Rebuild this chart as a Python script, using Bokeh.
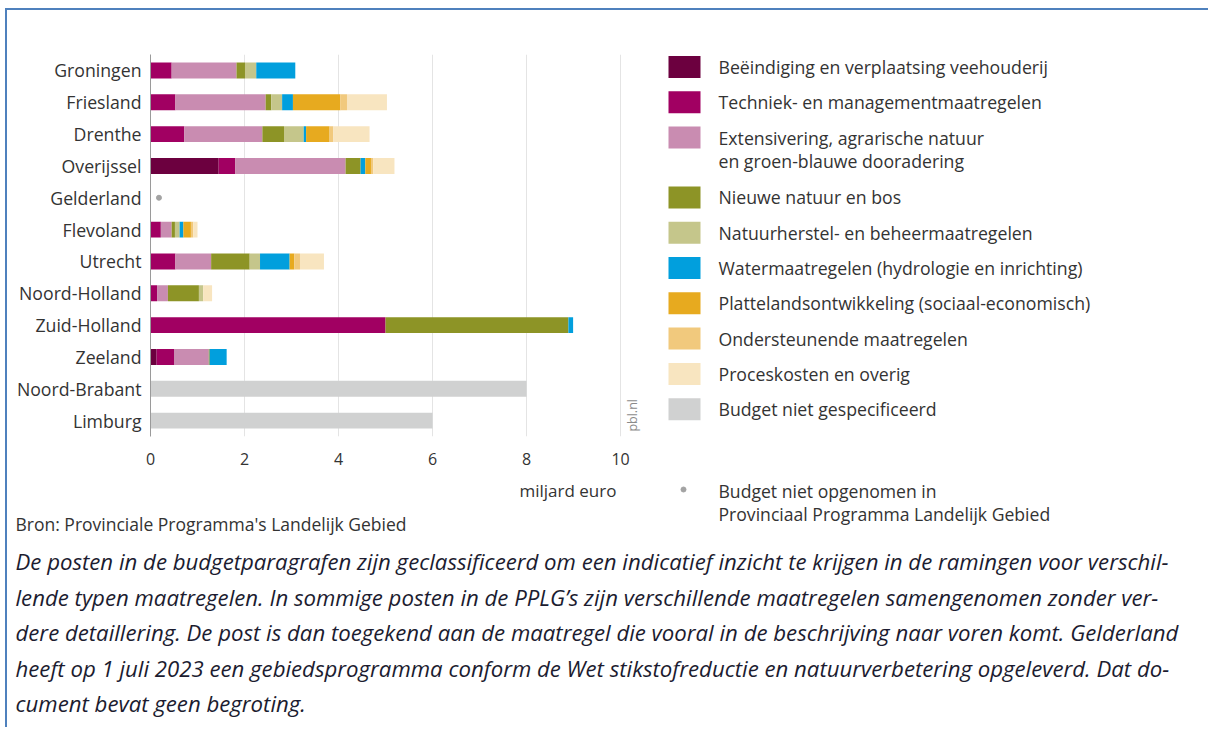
from math import pi
from bokeh.plotting import figure
from bokeh.models import ColumnDataSource, Range1d, FixedTicker
from bokeh.layouts import column, row
from bokeh.core.properties import value
from bokeh.embed import file_html
from bokeh.resources import INLINE

# ---------------- data (miljard euro) ----------------
categories = ["Groningen", "Friesland", "Drenthe", "Overijssel", "Gelderland", "Flevoland",
              "Utrecht", "Noord-Holland", "Zuid-Holland", "Zeeland", "Noord-Brabant", "Limburg"]

beeindiging   = [0.00, 0.00, 0.00, 1.45, 0.00, 0.00, 0.00, 0.00, 0.00, 0.13, 0.00, 0.00]
techniek      = [0.45, 0.53, 0.72, 0.35, 0.00, 0.22, 0.53, 0.14, 5.00, 0.37, 0.00, 0.00]
extensivering = [1.38, 1.92, 1.66, 2.35, 0.00, 0.23, 0.76, 0.23, 0.00, 0.74, 0.00, 0.00]
nieuwe_natuur = [0.18, 0.12, 0.46, 0.32, 0.00, 0.07, 0.82, 0.66, 3.89, 0.02, 0.00, 0.00]
natuurherstel = [0.24, 0.23, 0.42, 0.00, 0.00, 0.10, 0.22, 0.09, 0.00, 0.00, 0.00, 0.00]
water         = [0.83, 0.23, 0.05, 0.10, 0.00, 0.08, 0.63, 0.00, 0.10, 0.36, 0.00, 0.00]
platteland    = [0.00, 1.01, 0.50, 0.12, 0.00, 0.16, 0.10, 0.00, 0.00, 0.00, 0.00, 0.00]
ondersteunend = [0.00, 0.14, 0.08, 0.05, 0.00, 0.05, 0.12, 0.00, 0.00, 0.00, 0.00, 0.00]
proces        = [0.00, 0.85, 0.77, 0.45, 0.00, 0.09, 0.51, 0.19, 0.00, 0.00, 0.00, 0.00]
niet_gespec   = [0.00, 0.00, 0.00, 0.00, 0.00, 0.00, 0.00, 0.00, 0.00, 0.00, 8.00, 6.00]

not_in_pplg_cats = ["Gelderland"]
not_in_pplg_x = [0.18]

series_keys = ["beeindiging", "techniek", "extensivering", "nieuwe_natuur", "natuurherstel",
               "water", "platteland", "ondersteunend", "proces", "niet_gespec"]
series_labels = [
    ["Beëindiging en verplaatsing veehouderij"],
    ["Techniek- en managementmaatregelen"],
    ["Extensivering, agrarische natuur", "en groen-blauwe dooradering"],
    ["Nieuwe natuur en bos"],
    ["Natuurherstel- en beheermaatregelen"],
    ["Watermaatregelen (hydrologie en inrichting)"],
    ["Plattelandsontwikkeling (sociaal-economisch)"],
    ["Ondersteunende maatregelen"],
    ["Proceskosten en overig"],
    ["Budget niet gespecificeerd"],
]
colors = ["#6c003f", "#a10062", "#c98cb1", "#8d9426", "#c5c68b",
          "#019fdd", "#e7aa1f", "#f1c97d", "#f8e5c0", "#d0d1d1"]

x_ticks = [0, 2, 4, 6, 8, 10]
x_label = "miljard euro"
dot_label = ["Budget niet opgenomen in", "Provinciaal Programma Landelijk Gebied"]
source_text = "Bron: Provinciale Programma's Landelijk Gebied"
caption_lines = [
    "De posten in de budgetparagrafen zijn geclassificeerd om een indicatief inzicht te krijgen in de ramingen voor verschil-",
    "lende typen maatregelen. In sommige posten in de PPLG’s zijn verschillende maatregelen samengenomen zonder ver-",
    "dere detaillering. De post is dan toegekend aan de maatregel die vooral in de beschrijving naar voren komt. Gelderland",
    "heeft op 1 juli 2023 een gebiedsprogramma conform de Wet stikstofreductie en natuurverbetering opgeleverd. Dat do-",
    "cument bevat geen begroting.",
]

FONT = "Open Sans"
TXT = "#333333"

# layout constants (pixels)
W_A, H_A = 642, 465
TOP, BOT = 44, 39
FRAME_H = H_A - TOP - BOT

# ---------------- chart ----------------
data = dict(cat=categories, beeindiging=beeindiging, techniek=techniek, extensivering=extensivering,
            nieuwe_natuur=nieuwe_natuur, natuurherstel=natuurherstel, water=water,
            platteland=platteland, ondersteunend=ondersteunend, proces=proces, niet_gespec=niet_gespec)
src = ColumnDataSource(data)

p = figure(width=W_A, height=H_A, y_range=list(reversed(categories)), x_range=Range1d(0, 10.53),
           output_backend="svg", toolbar_location=None,
           min_border_left=143, min_border_right=4, min_border_top=TOP, min_border_bottom=BOT)
p.hbar_stack(series_keys, y="cat", height=0.5, source=src, fill_color=colors, line_color=None)
p.scatter(x=not_in_pplg_x, y=not_in_pplg_cats, size=5, color="#a3a3a3")
p.text(x=[10.26], y=["Limburg"], text=["pbl.nl"], angle=pi / 2, y_offset=11,
       text_align="left", text_baseline="middle", text_font=value(FONT),
       text_font_size="12.5px", text_color="#8a8a8a")

p.outline_line_color = None
p.ygrid.visible = False
p.xgrid.ticker = FixedTicker(ticks=x_ticks)
p.xgrid.grid_line_color = "#e4e4e4"
p.xgrid.grid_line_width = 1

p.xaxis.ticker = FixedTicker(ticks=x_ticks)
p.xaxis.axis_line_color = None
p.xaxis.major_tick_line_color = None
p.xaxis.minor_tick_line_color = None
p.xaxis.major_label_standoff = 10
p.xaxis.major_label_text_font = FONT
p.xaxis.major_label_text_font_size = "16px"
p.xaxis.major_label_text_color = TXT

p.yaxis.axis_line_color = "#9a9a9a"
p.yaxis.major_tick_line_color = None
p.yaxis.minor_tick_line_color = None
p.yaxis.major_tick_out = 0
p.yaxis.major_tick_in = 0
p.yaxis.major_label_standoff = 9
p.yaxis.major_label_text_font = FONT
p.yaxis.major_label_text_font_size = "17.7px"
p.yaxis.major_label_text_color = TXT

# ---------------- legend (canvas pixel coordinates) ----------------
W_L = 559
L = figure(width=W_L, height=H_A, x_range=Range1d(0, W_L), y_range=Range1d(TOP + FRAME_H, TOP),
           x_axis_type=None, y_axis_type=None, output_backend="svg", toolbar_location=None,
           min_border_left=0, min_border_right=0, min_border_top=TOP, min_border_bottom=BOT,
           outline_line_color=None)
item_y = []
y = 56.5
for lab in series_labels:
    item_y.append(y)
    y += 35.3 + 23 * (len(lab) - 1) + (1.5 if len(lab) > 1 else 0)
L.rect(x=[35] * len(item_y), y=item_y, width=32, height=22, fill_color=colors, line_color=None)
tx, ty, tt = [], [], []
for yy, lab in zip(item_y, series_labels):
    for k, line in enumerate(lab):
        tx.append(69)
        ty.append(yy + 23 * k)
        tt.append(line)
L.text(x=tx, y=ty, text=tt, text_baseline="middle", text_align="left",
       text_font=value(FONT), text_font_size="17.7px", text_color=TXT)

# ---------------- bottom (canvas pixel coordinates) ----------------
W_B, H_B = 1201, 252
B = figure(width=W_B, height=H_B, x_range=Range1d(0, W_B), y_range=Range1d(H_B, 0),
           x_axis_type=None, y_axis_type=None, output_backend="svg", toolbar_location=None,
           min_border=0, outline_line_color=None)
B.text(x=[512], y=[15], text=[x_label], text_baseline="middle", text_font=value(FONT),
       text_font_size="17px", text_color=TXT)
B.scatter(x=[676], y=[14], size=5, color="#a3a3a3")
B.text(x=[711, 711], y=[15, 38], text=dot_label, text_baseline="middle", text_font=value(FONT),
       text_font_size="17.6px", text_color=TXT)
B.text(x=[8], y=[48], text=[source_text], text_baseline="middle", text_font=value(FONT),
       text_font_size="17.5px", text_color=TXT)
B.text(x=[8] * len(caption_lines), y=[86 + 35.5 * i for i in range(len(caption_lines))],
       text=caption_lines, text_baseline="middle", text_font=value(FONT),
       text_font_style="italic", text_font_size="22.2px", text_color="#1c1c30")

layout = column(row(p, L), B,
                styles={"margin-left": "5px", "margin-top": "8px",
                        "border-top": "2px solid #4f81bd", "border-left": "2px solid #4f81bd"})

open("out.html", "w").write(file_html(layout, INLINE))
